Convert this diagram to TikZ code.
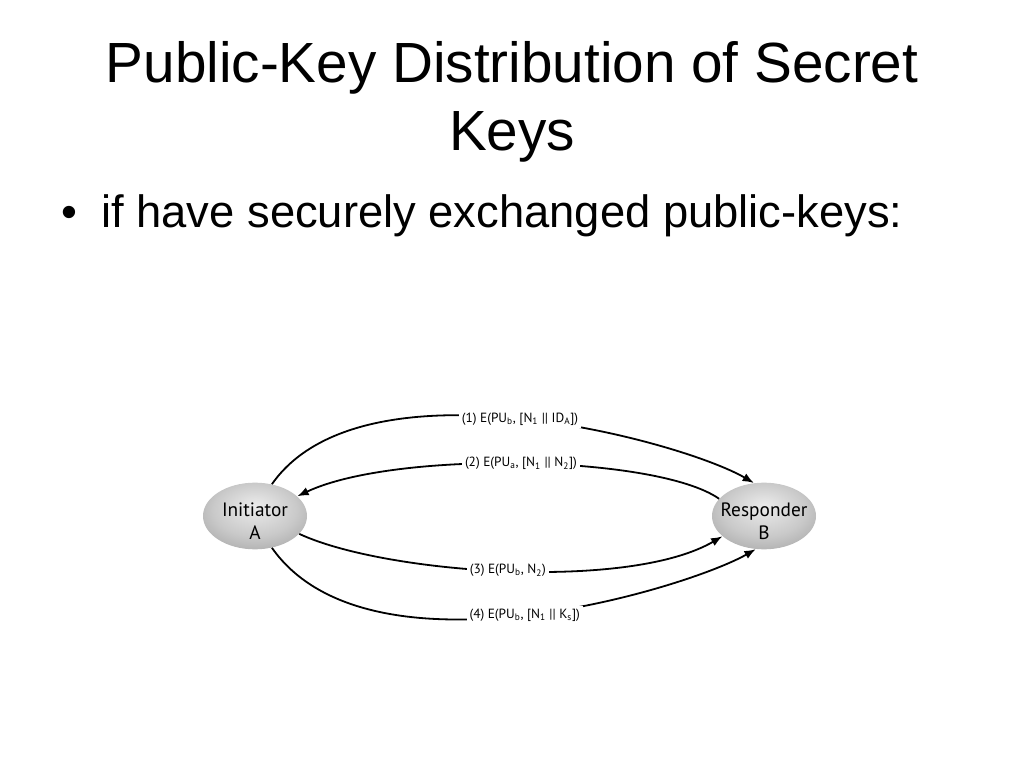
\documentclass[tikz,border=0pt]{standalone}
\usepackage{fontspec}
\setmainfont{Liberation Sans}
\newfontfamily\diagfont{PT Sans}
\usetikzlibrary{arrows.meta,shapes.geometric}
\pgfdeclareradialshading{ballgray}{\pgfpoint{0bp}{8bp}}{color(0bp)=(gray!15); color(20bp)=(gray!42); color(50bp)=(gray!100)}

\begin{document}
\begin{tikzpicture}[x=0.75pt,y=0.75pt, % one unit is one pixel of the slide
	party/.style={ellipse, minimum width=78pt, minimum height=50pt, inner sep=0pt, shading=ballgray, text=black, font=\diagfont\fontsize{14.5}{17.5}\selectfont},
	msg/.style={line width=1.35pt, -{Latex[length=8.5pt,width=6.5pt]}},
	lbl/.style={fill=white, inner sep=2pt, font=\diagfont\fontsize{10}{11}\selectfont}]
	\useasboundingbox (0,0) rectangle (1024,768);
	
	% Title and bullet
	\node[anchor=base, font=\fontsize{42.5}{51}\selectfont] (title1) at (512,685) {Public-Key Distribution of Secret};
	\node[anchor=base, font=\fontsize{42.5}{51}\selectfont] (title2) at (512,617) {Keys};
	\node[anchor=base, font=\fontsize{34}{40}\selectfont] (dot) at (69,540) {•};
	\node[anchor=base west, inner sep=0pt, font=\fontsize{34}{40}\selectfont] (point) at (101,540) {if have securely exchanged public-keys:};
	
	% The two parties
	\node[party] (A) at (255,252) {\makebox[0pt]{\raisebox{-9pt}[0pt][0pt]{\begin{tabular}{@{}c@{}}Initiator\\A\end{tabular}}}};
	\node[party] (B) at (764,252) {\makebox[0pt]{\raisebox{-9pt}[0pt][0pt]{\begin{tabular}{@{}c@{}}Responder\\B\end{tabular}}}};
	
	% Messages, labels sit on the curves
	\draw[msg] (A.62) .. controls +(91,130) and +(-72,42) .. (B.107)
		node[lbl, pos=0.5] {(1) E(PU\textsubscript{b}, [N\textsubscript{1} || ID\textsubscript{A}])};
	\draw[msg] (B.159) .. controls +(-63,44) and +(97,46) .. (A.25)
		node[lbl, pos=0.5] {(2) E(PU\textsubscript{a}, [N\textsubscript{1} || N\textsubscript{2}])};
	\draw[msg] (A.-22) .. controls +(86,-40) and +(-94,-55) .. (B.206)
		node[lbl, pos=0.5] {(3) E(PU\textsubscript{b}, N\textsubscript{2})};
	\draw[msg] (A.-62) .. controls +(97,-138) and +(-68,-39) .. (B.256)
		node[lbl, pos=0.5] {(4) E(PU\textsubscript{b}, [N\textsubscript{1} || K\textsubscript{s}])};
\end{tikzpicture}
\end{document}
